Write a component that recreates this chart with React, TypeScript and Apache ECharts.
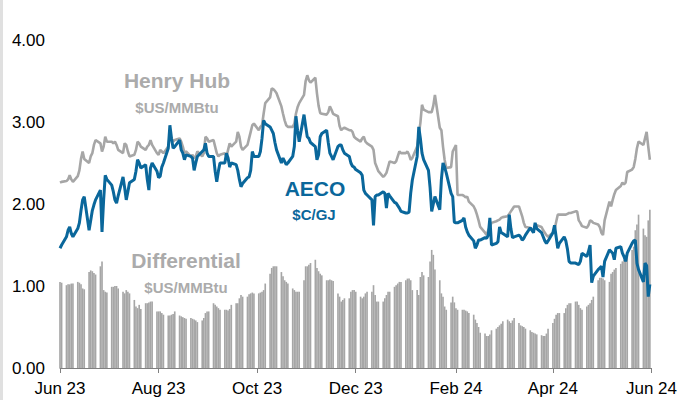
import React, { useEffect, useRef } from "react";
import * as echarts from "echarts";

// Weekday values, Jun 1 2023 – May 31 2024
const hhValues = [
  2.26, 2.27,
  2.28, 2.30, 2.35, 2.30, 2.27,
  2.34, 2.41, 2.55, 2.64, 2.55,
  2.50, 2.58, 2.62, 2.72, 2.78,
  2.74, 2.64, 2.70, 2.82, 2.76,
  2.76, 2.74, 2.76, 2.72, 2.66,
  2.62, 2.74, 2.72, 2.64, 2.58,
  2.60, 2.66, 2.76, 2.74, 2.70,
  2.66, 2.70, 2.72, 2.78, 2.72,
  2.62, 2.60, 2.66, 2.64, 2.62,
  2.70, 2.84, 2.80, 2.76, 2.78,
  2.80, 2.76, 2.70, 2.62, 2.64,
  2.58, 2.60, 2.56, 2.58, 2.64,
  2.58, 2.62, 2.82, 2.80, 2.76,
  2.78, 2.70, 2.62, 2.58, 2.60,
  2.62, 2.58, 2.66, 2.74, 2.70,
  2.76, 2.88, 2.82, 2.70, 2.66,
  2.72, 2.80, 2.88, 2.96, 2.98,
  2.90, 2.94, 2.96, 3.10, 3.23,
  3.30, 3.41, 3.40, 3.38, 3.35,
  3.19, 3.10, 3.02, 2.96, 2.94,
  2.94, 2.98, 3.10, 3.18, 3.23,
  3.33, 3.50, 3.57, 3.51, 3.48,
  3.54, 3.35, 3.20, 3.11, 3.10,
  3.09, 3.12, 3.19, 3.15, 3.10,
  3.07, 2.95, 2.90, 2.92, 2.93,
  2.90, 2.90, 2.88, 2.82, 2.80,
  2.76, 2.80, 2.82, 2.76, 2.74,
  2.70, 2.66, 2.50, 2.45, 2.40,
  2.33, 2.35, 2.38, 2.45, 2.52,
  2.50, 2.52, 2.58, 2.64, 2.62,
  2.62, 2.64, 2.60, 2.54, 2.56,
  2.70, 2.85, 2.99, 3.21, 3.15,
  3.12, 3.12, 3.12, 3.20, 3.33,
  2.93, 2.90, 2.70, 2.54, 2.44,
  2.45, 2.64, 2.68, 2.72, 2.11,
  2.11, 2.10, 2.08, 2.09, 2.03,
  1.97, 1.93, 1.87, 1.80, 1.72,
  1.65, 1.62, 1.68, 1.72, 1.77,
  1.79, 1.80, 1.81, 1.83, 1.84,
  1.85, 1.88, 1.91, 1.94, 1.97,
  1.97, 1.91, 1.85, 1.77, 1.72,
  1.71, 1.68, 1.68, 1.72, 1.74,
  1.72, 1.68, 1.65, 1.62, 1.60,
  1.65, 1.68, 1.78, 1.87, 1.87,
  1.87, 1.87, 1.88, 1.89, 1.89,
  1.91, 1.91, 1.80, 1.77, 1.73,
  1.71, 1.74, 1.80, 1.79, 1.77,
  1.75, 1.72, 1.65, 1.62, 1.80,
  2.03, 1.97, 2.05, 2.12, 2.17,
  2.22, 2.26, 2.24, 2.26, 2.39,
  2.42, 2.45, 2.55, 2.68, 2.76,
  2.72, 2.80, 2.88, 2.70, 2.54,
];

const aecoValues = [
  1.46, 1.50,
  1.60, 1.68, 1.72, 1.64, 1.60,
  1.70, 1.77, 1.92, 2.05, 2.09,
  1.68, 1.80, 1.92, 1.99, 2.05,
  2.17, 1.66, 2.05, 2.35, 2.30,
  2.23, 2.15, 2.05, 2.01, 2.10,
  2.33, 2.20, 2.05, 2.15, 2.26,
  2.30, 2.40, 2.54, 2.50, 2.44,
  2.48, 2.30, 2.17, 2.44, 2.50,
  2.40, 2.32, 2.34, 2.45, 2.50,
  2.68, 2.96, 2.80, 2.68, 2.70,
  2.78, 2.66, 2.62, 2.54, 2.60,
  2.58, 2.56, 2.41, 2.50, 2.58,
  2.64, 2.66, 2.74, 2.62, 2.58,
  2.58, 2.40, 2.27, 2.40, 2.50,
  2.50, 2.62, 2.56, 2.45, 2.50,
  2.48, 2.41, 2.30, 2.21, 2.25,
  2.32, 2.33, 2.41, 2.64, 2.58,
  2.58, 2.64, 2.80, 3.02, 2.98,
  2.94, 2.90, 2.86, 2.75, 2.66,
  2.50, 2.56, 2.52, 2.48, 2.50,
  2.58, 2.70, 3.07, 2.90, 2.76,
  3.09, 2.95, 2.82, 2.80, 2.75,
  2.70, 2.54, 2.60, 2.82, 2.86,
  2.90, 2.75, 2.62, 2.58, 2.54,
  2.70, 2.72, 2.72, 2.66, 2.62,
  2.58, 2.50, 2.46, 2.45, 2.42,
  2.38, 2.35, 2.17, 2.13, 2.11,
  2.05, 1.74, 2.09, 2.11, 2.11,
  2.15, 2.13, 1.95, 2.13, 2.10,
  2.02, 2.01, 1.98, 1.95, 1.91,
  1.89, 1.89, 1.90, 2.13, 2.29,
  2.58, 2.94, 2.80, 2.62, 2.54,
  2.41, 2.20, 1.91, 2.00, 2.09,
  1.93, 2.30, 2.50, 2.45, 2.38,
  2.13, 2.09, 1.78, 1.77, 1.77,
  1.80, 1.83, 1.72, 1.66, 1.62,
  1.55, 1.46, 1.50, 1.56, 1.56,
  1.59, 1.58, 1.62, 1.83, 1.50,
  1.52, 1.54, 1.72, 1.65, 1.64,
  1.60, 1.87, 1.70, 1.59, 1.60,
  1.62, 1.60, 1.56, 1.58, 1.62,
  1.71, 1.68, 1.65, 1.77, 1.70,
  1.65, 1.60, 1.55, 1.52, 1.55,
  1.65, 1.74, 1.60, 1.46, 1.52,
  1.60, 1.55, 1.45, 1.30, 1.28,
  1.28, 1.27, 1.26, 1.30, 1.40,
  1.36, 1.42, 1.50, 1.04, 1.12,
  1.20, 1.22, 1.24, 1.11, 1.30,
  1.44, 1.42, 1.40, 1.32, 1.46,
  1.48, 1.40, 1.36, 1.30, 1.40,
  1.52, 1.55, 1.56, 1.28, 1.20,
  1.05, 1.28, 1.25, 0.87, 1.02,
];

const diffValues = [
  1.05, 1.04,
  1.01, 1.02, 1.02, 1.03, 1.03,
  1.05, 1.04, 1.02, 0.97, 0.96,
  1.17, 1.19, 1.18, 1.16, 1.14,
  1.24, 1.30, 0.95, 0.93, 0.92,
  0.99, 0.99, 1.00, 1.00, 0.97,
  0.93, 0.91, 0.95, 0.93, 0.91,
  0.83, 0.75, 0.73, 0.77, 0.72,
  0.79, 0.79, 0.80, 0.81, 0.81,
  0.69, 0.69, 0.69, 0.67, 0.65,
  0.64, 0.64, 0.65, 0.66, 0.69,
  0.64, 0.63, 0.62, 0.61, 0.60,
  0.61, 0.60, 0.59, 0.58, 0.56,
  0.58, 0.61, 0.67, 0.69, 0.69,
  0.79, 0.77, 0.75, 0.73, 0.71,
  0.71, 0.71, 0.70, 0.72, 0.77,
  0.79, 0.79, 0.85, 0.89, 0.87,
  0.87, 0.90, 0.91, 0.92, 0.91,
  0.91, 0.92, 0.93, 0.95, 1.03,
  1.15, 1.22, 1.24, 1.24, 1.24,
  1.17, 1.12, 1.07, 1.05, 1.03,
  0.97, 0.95, 0.93, 0.93, 0.93,
  1.07, 1.24, 1.24, 1.26, 1.28,
  1.32, 1.22, 1.18, 1.15, 1.13,
  1.07, 1.07, 1.08, 1.07, 1.06,
  0.91, 0.87, 0.81, 0.83, 0.85,
  0.85, 0.93, 0.95, 0.95, 0.93,
  0.87, 0.85, 0.87, 0.91, 0.93,
  0.93, 1.01, 0.89, 0.81, 0.81,
  0.81, 0.85, 0.89, 0.93, 0.93,
  0.99, 1.01, 1.03, 1.05, 1.05,
  1.07, 1.09, 1.09, 1.07, 0.95,
  0.95, 0.89, 1.11, 1.17, 1.13,
  1.11, 1.30, 1.44, 1.38, 1.20,
  1.07, 0.91, 0.87, 0.75, 0.71,
  0.80, 0.87, 0.80, 0.73, 0.71,
  0.71, 0.71, 0.70, 0.69, 0.67,
  0.65, 0.59, 0.55, 0.50, 0.43,
  0.42, 0.39, 0.39, 0.41, 0.46,
  0.48, 0.50, 0.52, 0.54, 0.57,
  0.59, 0.57, 0.55, 0.58, 0.61,
  0.55, 0.52, 0.51, 0.50, 0.48,
  0.46, 0.44, 0.43, 0.42, 0.41,
  0.40, 0.39, 0.39, 0.42, 0.48,
  0.55, 0.60, 0.65, 0.67, 0.67,
  0.67, 0.73, 0.77, 0.79, 0.79,
  0.81, 0.81, 0.77, 0.73, 0.71,
  0.75, 0.77, 0.79, 0.83, 0.87,
  1.07, 1.10, 1.10, 1.09, 1.07,
  1.05, 1.15, 1.17, 1.20, 1.22,
  1.27, 1.30, 1.32, 1.34, 1.38,
  1.44, 1.48, 1.68, 1.75, 1.87,
  1.70, 1.62, 1.60, 1.80, 1.93,
];

const tickDates = [
  [2023, 5], [2023, 7], [2023, 9], [2023, 11],
  [2024, 1], [2024, 3], [2024, 5],
];
const monthNames = ["Jan", "Feb", "Mar", "Apr", "May", "Jun", "Jul", "Aug", "Sep", "Oct", "Nov", "Dec"];
const yTicks = [0, 1, 2, 3, 4];

const FONT = "'Liberation Sans', Arial, sans-serif";

function weekdayDates(): number[] {
  const out: number[] = [];
  const start = Date.UTC(2023, 5, 1);
  const end = Date.UTC(2024, 4, 31);
  for (let t = start; t <= end; t += 86400000) {
    const d = new Date(t).getUTCDay();
    if (d !== 0 && d !== 6) out.push(t);
  }
  return out;
}

export default function App() {
  const ref = useRef<HTMLDivElement>(null);
  useEffect(() => {
    if (!ref.current) return;
    const chart = echarts.init(ref.current, undefined, { renderer: "svg" });
    const dates = weekdayDates();
    const pair = (vals: number[]) =>
      vals.slice(0, dates.length).map((v, i) => [dates[i], v]);
    const tickVals = tickDates.map(([y, m]) => Date.UTC(y, m, 1));
    const gray = "#A6A6A6";
    const blue = "#0A679B";
    const option: any = {
      animation: false,
      grid: { left: 60, right: 27, top: 40, bottom: 32 },
      xAxis: {
        type: "value",
        min: tickVals[0],
        max: tickVals[tickVals.length - 1],
        scale: true,
        axisLine: { show: true, onZero: false, lineStyle: { color: "#808080", width: 1 } },
        axisTick: { show: true, length: 5, lineStyle: { color: "#808080" }, customValues: tickVals },
        splitLine: { show: false },
        axisLabel: {
          customValues: tickVals,
          showMinLabel: true,
          showMaxLabel: true,
          fontSize: 17,
          color: "#000",
          fontFamily: FONT,
          margin: 12,
          formatter: (v: number) => {
            const d = new Date(v);
            return monthNames[d.getUTCMonth()] + " " + String(d.getUTCFullYear()).slice(2);
          },
        },
      },
      yAxis: {
        type: "value",
        min: yTicks[0],
        max: yTicks[yTicks.length - 1],
        interval: 1,
        axisLine: { show: false },
        axisTick: { show: false },
        splitLine: { show: false },
        axisLabel: {
          fontSize: 17,
          color: "#000",
          fontFamily: FONT,
          margin: 15,
          formatter: (v: number) => v.toFixed(2),
        },
      },
      series: [
        {
          type: "bar",
          name: "Differential",
          data: pair(diffValues),
          barWidth: 1.65,
          itemStyle: { color: gray },
          z: 1,
        },
        {
          type: "line",
          name: "Henry Hub",
          data: pair(hhValues),
          showSymbol: false,
          symbol: "none",
          lineStyle: { color: gray, width: 2.6 },
          z: 2,
        },
        {
          type: "line",
          name: "AECO",
          data: pair(aecoValues),
          showSymbol: false,
          symbol: "none",
          lineStyle: { color: blue, width: 3 },
          z: 3,
        },
      ],
      graphic: [
        { type: "rect", shape: { x: 0, y: 0, width: 3, height: 400 }, style: { fill: "#E0E0E0" }, silent: true },
        { type: "text", x: 177, y: 80, style: { text: "Henry Hub", fill: "#ABABAB", font: `bold 21px ${FONT}`, textAlign: "center", textVerticalAlign: "middle" } },
        { type: "text", x: 177, y: 107, style: { text: "$US/MMBtu", fill: "#ABABAB", font: `bold 15px ${FONT}`, textAlign: "center", textVerticalAlign: "middle" } },
        { type: "text", x: 315, y: 188, style: { text: "AECO", fill: blue, font: `bold 21px ${FONT}`, textAlign: "center", textVerticalAlign: "middle" } },
        { type: "text", x: 314, y: 214, style: { text: "$C/GJ", fill: blue, font: `bold 15px ${FONT}`, textAlign: "center", textVerticalAlign: "middle" } },
        { type: "text", x: 186, y: 260, style: { text: "Differential", fill: "#ABABAB", font: `bold 21px ${FONT}`, textAlign: "center", textVerticalAlign: "middle" } },
        { type: "text", x: 186, y: 287, style: { text: "$US/MMBtu", fill: "#ABABAB", font: `bold 15px ${FONT}`, textAlign: "center", textVerticalAlign: "middle" } },
      ],
    };
    chart.setOption(option);
    return () => chart.dispose();
  }, []);
  return (
    <div
      ref={ref}
      style={{ position: "absolute", left: 0, top: 0, width: 680, height: 400, background: "#fff" }}
    />
  );
}
